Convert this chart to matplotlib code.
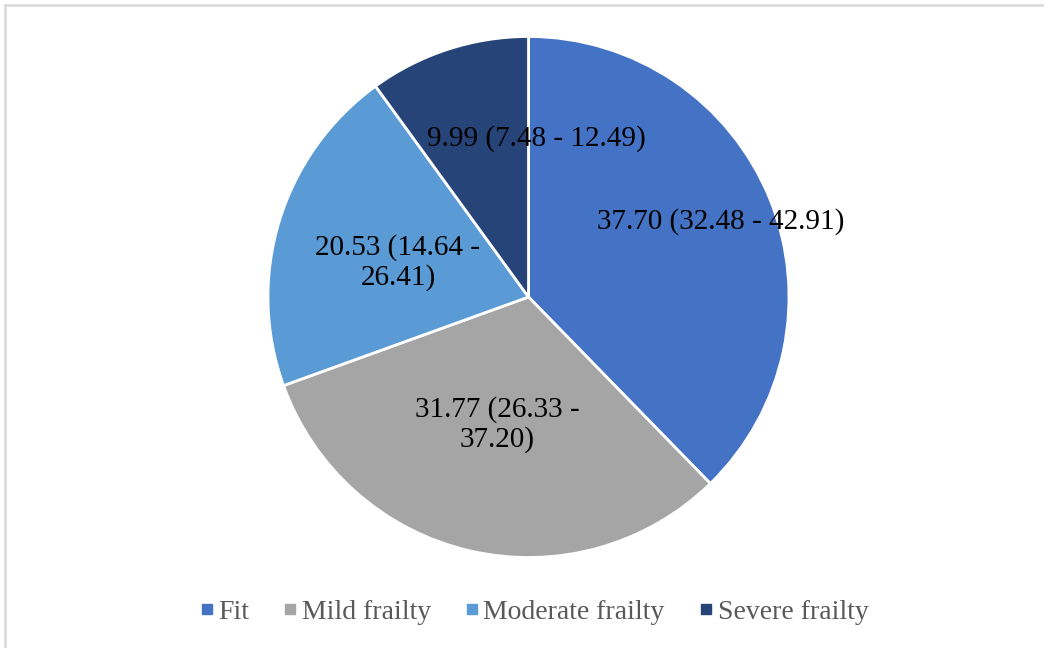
import matplotlib.pyplot as plt
from matplotlib.lines import Line2D

categories = ["Fit", "Mild frailty", "Moderate frailty", "Severe frailty"]
prevalence = [37.70, 31.77, 20.53, 9.99]
ci_low = [32.48, 26.33, 14.64, 7.48]
ci_high = [42.91, 37.20, 26.41, 12.49]

colors = ["#4472C4", "#A5A5A5", "#5B9BD5", "#264478"]
# where the label breaks onto a second line (Excel wraps the two middle ones)
wrap = [False, True, True, False]
# label centres, in units of pie radius
label_pos = [(0.739, 0.288), (-0.121, -0.488), (-0.501, 0.134), (0.029, 0.610)]

plt.rcParams["font.family"] = ["Liberation Serif", "DejaVu Serif"]

W, H = 1044, 648
fig = plt.figure(figsize=(W / 100, H / 100), dpi=100)
cx, cy, r = 528.5, 297, 260.5
ax = fig.add_axes([(cx - r) / W, (H - cy - r) / H, 2 * r / W, 2 * r / H])

wedges, _ = ax.pie(prevalence, colors=colors, startangle=90, counterclock=False,
                   radius=1, wedgeprops=dict(edgecolor="white", linewidth=2))
ax.set_xlim(-1, 1)
ax.set_ylim(-1, 1)
ax.set_aspect("equal")
ax.axis("off")

for i, (v, lo, hi) in enumerate(zip(prevalence, ci_low, ci_high)):
    sep = " -\n" if wrap[i] else " - "
    txt = "{:.2f} ({:.2f}{}{:.2f})".format(v, lo, sep, hi)
    ax.text(label_pos[i][0], label_pos[i][1], txt, ha="center", va="center",
            fontsize=21, color="black", linespacing=1.15)

handles = [Line2D([0], [0], marker="s", linestyle="none", markersize=7.5,
                  markerfacecolor=c, markeredgecolor=c) for c in colors]
leg = fig.legend(handles, categories, loc="center", bbox_to_anchor=(534 / W, 1 - 612 / H),
                 ncol=4, frameon=False, fontsize=20, handletextpad=0.15,
                 columnspacing=1.25, handlelength=0.5, borderpad=0)
for t in leg.get_texts():
    t.set_color("#595959")

# thin grey frame on the top and left edge, as in the source image
fig.add_artist(Line2D([5 / W, 5 / W], [0, 1 - 5 / H], transform=fig.transFigure,
                      color="#d9d9d9", linewidth=1.8))
fig.add_artist(Line2D([5 / W, 1], [1 - 5 / H, 1 - 5 / H], transform=fig.transFigure,
                      color="#d9d9d9", linewidth=1.8))

fig.savefig("out.png", dpi=100)
